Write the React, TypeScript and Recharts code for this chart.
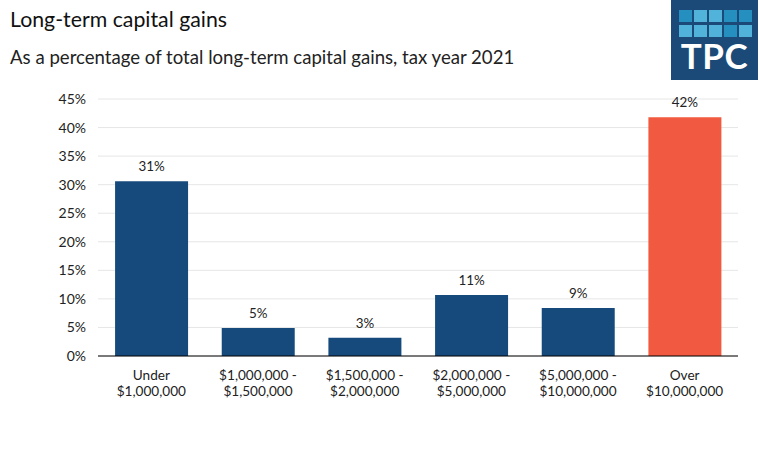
import React from 'react';
import { BarChart, Bar, XAxis, YAxis, CartesianGrid, Cell, LabelList } from 'recharts';

const categories = [
  'Under|$1,000,000',
  '$1,000,000 -|$1,500,000',
  '$1,500,000 -|$2,000,000',
  '$2,000,000 -|$5,000,000',
  '$5,000,000 -|$10,000,000',
  'Over|$10,000,000',
];
const shares = [30.6, 4.9, 3.2, 10.7, 8.4, 41.8];
const shareLabels = ['31%', '5%', '3%', '11%', '9%', '42%'];
const yTicks = [0, 5, 10, 15, 20, 25, 30, 35, 40, 45];

const data = categories.map((name, i) => ({ name, value: shares[i], label: shareLabels[i] }));

const FONT = 'Lato, "Open Sans", sans-serif';
const BLUE = '#174a7c';
const ORANGE = '#f15a40';

// category names carry a '|' where the label breaks onto a second line
const TwoLineTick = (props: any) => {
  const { x, y, payload } = props;
  const lines = String(payload.value).split('|');
  return (
    <text x={x} y={y + 16} textAnchor="middle" fill="#222" fontSize={13.6} fontFamily={FONT}>
      {lines.map((l, i) => (
        <tspan key={i} x={x} dy={i === 0 ? 0 : 16}>{l}</tspan>
      ))}
    </text>
  );
};

const DARK_SQ = '#2590bf';
const LIGHT_SQ = '#52b3da';
const squareColors = [DARK_SQ, LIGHT_SQ, LIGHT_SQ, DARK_SQ, DARK_SQ, LIGHT_SQ, LIGHT_SQ, LIGHT_SQ, DARK_SQ, LIGHT_SQ];

const Logo = () => (
  <div style={{ position: 'absolute', left: 671, top: 0, width: 87, height: 80, background: '#1b4a78' }}>
    <div style={{ position: 'absolute', left: 8, top: 10, width: 75, display: 'flex', flexWrap: 'wrap', columnGap: 2, rowGap: 3 }}>
      {squareColors.map((c, i) => (
        <div key={i} style={{ width: 13, height: 12, background: c }} />
      ))}
    </div>
    <div style={{ position: 'absolute', left: 0, top: 35, width: 87, textAlign: 'center', color: '#fff', fontFamily: FONT, fontWeight: 700, fontSize: 35, letterSpacing: 0.5, lineHeight: '40px' }}>
      TPC
    </div>
  </div>
);

export default function App() {
  return (
    <div style={{ position: 'absolute', left: 0, top: 0, width: 761, height: 468, background: '#fff', fontFamily: FONT, overflow: 'hidden' }}>
      <div style={{ position: 'absolute', left: 10, top: 6, fontSize: 21.3, color: '#111' }}>Long-term capital gains</div>
      <div style={{ position: 'absolute', left: 10, top: 46, fontSize: 18.6, color: '#222' }}>As a percentage of total long-term capital gains, tax year 2021</div>
      <Logo />
      <div style={{ position: 'absolute', left: 0, top: 0 }}>
        <BarChart width={761} height={468} data={data} margin={{ top: 99, right: 23, left: 0, bottom: 62 }} barCategoryGap="16%">
          <CartesianGrid vertical={false} stroke="#e6e6e6" />
          <XAxis
            dataKey="name"
            tick={<TwoLineTick />}
            tickLine={false}
            axisLine={{ stroke: '#000' }}
            interval={0}
            height={50}
          />
          <YAxis
            domain={[0, 45]}
            ticks={yTicks}
            tickFormatter={(v) => `${v}%`}
            axisLine={false}
            tickLine={false}
            width={98}
            tick={{ fill: '#222', fontSize: 14, fontFamily: FONT }}
            tickMargin={6}
          />
          <Bar dataKey="value" isAnimationActive={false}>
            {data.map((d, i) => (
              <Cell key={i} fill={i === data.length - 1 ? ORANGE : BLUE} />
            ))}
            <LabelList dataKey="label" position="top" offset={10} fill="#222" fontSize={13.4} fontFamily={FONT} />
          </Bar>
        </BarChart>
      </div>
    </div>
  );
}
